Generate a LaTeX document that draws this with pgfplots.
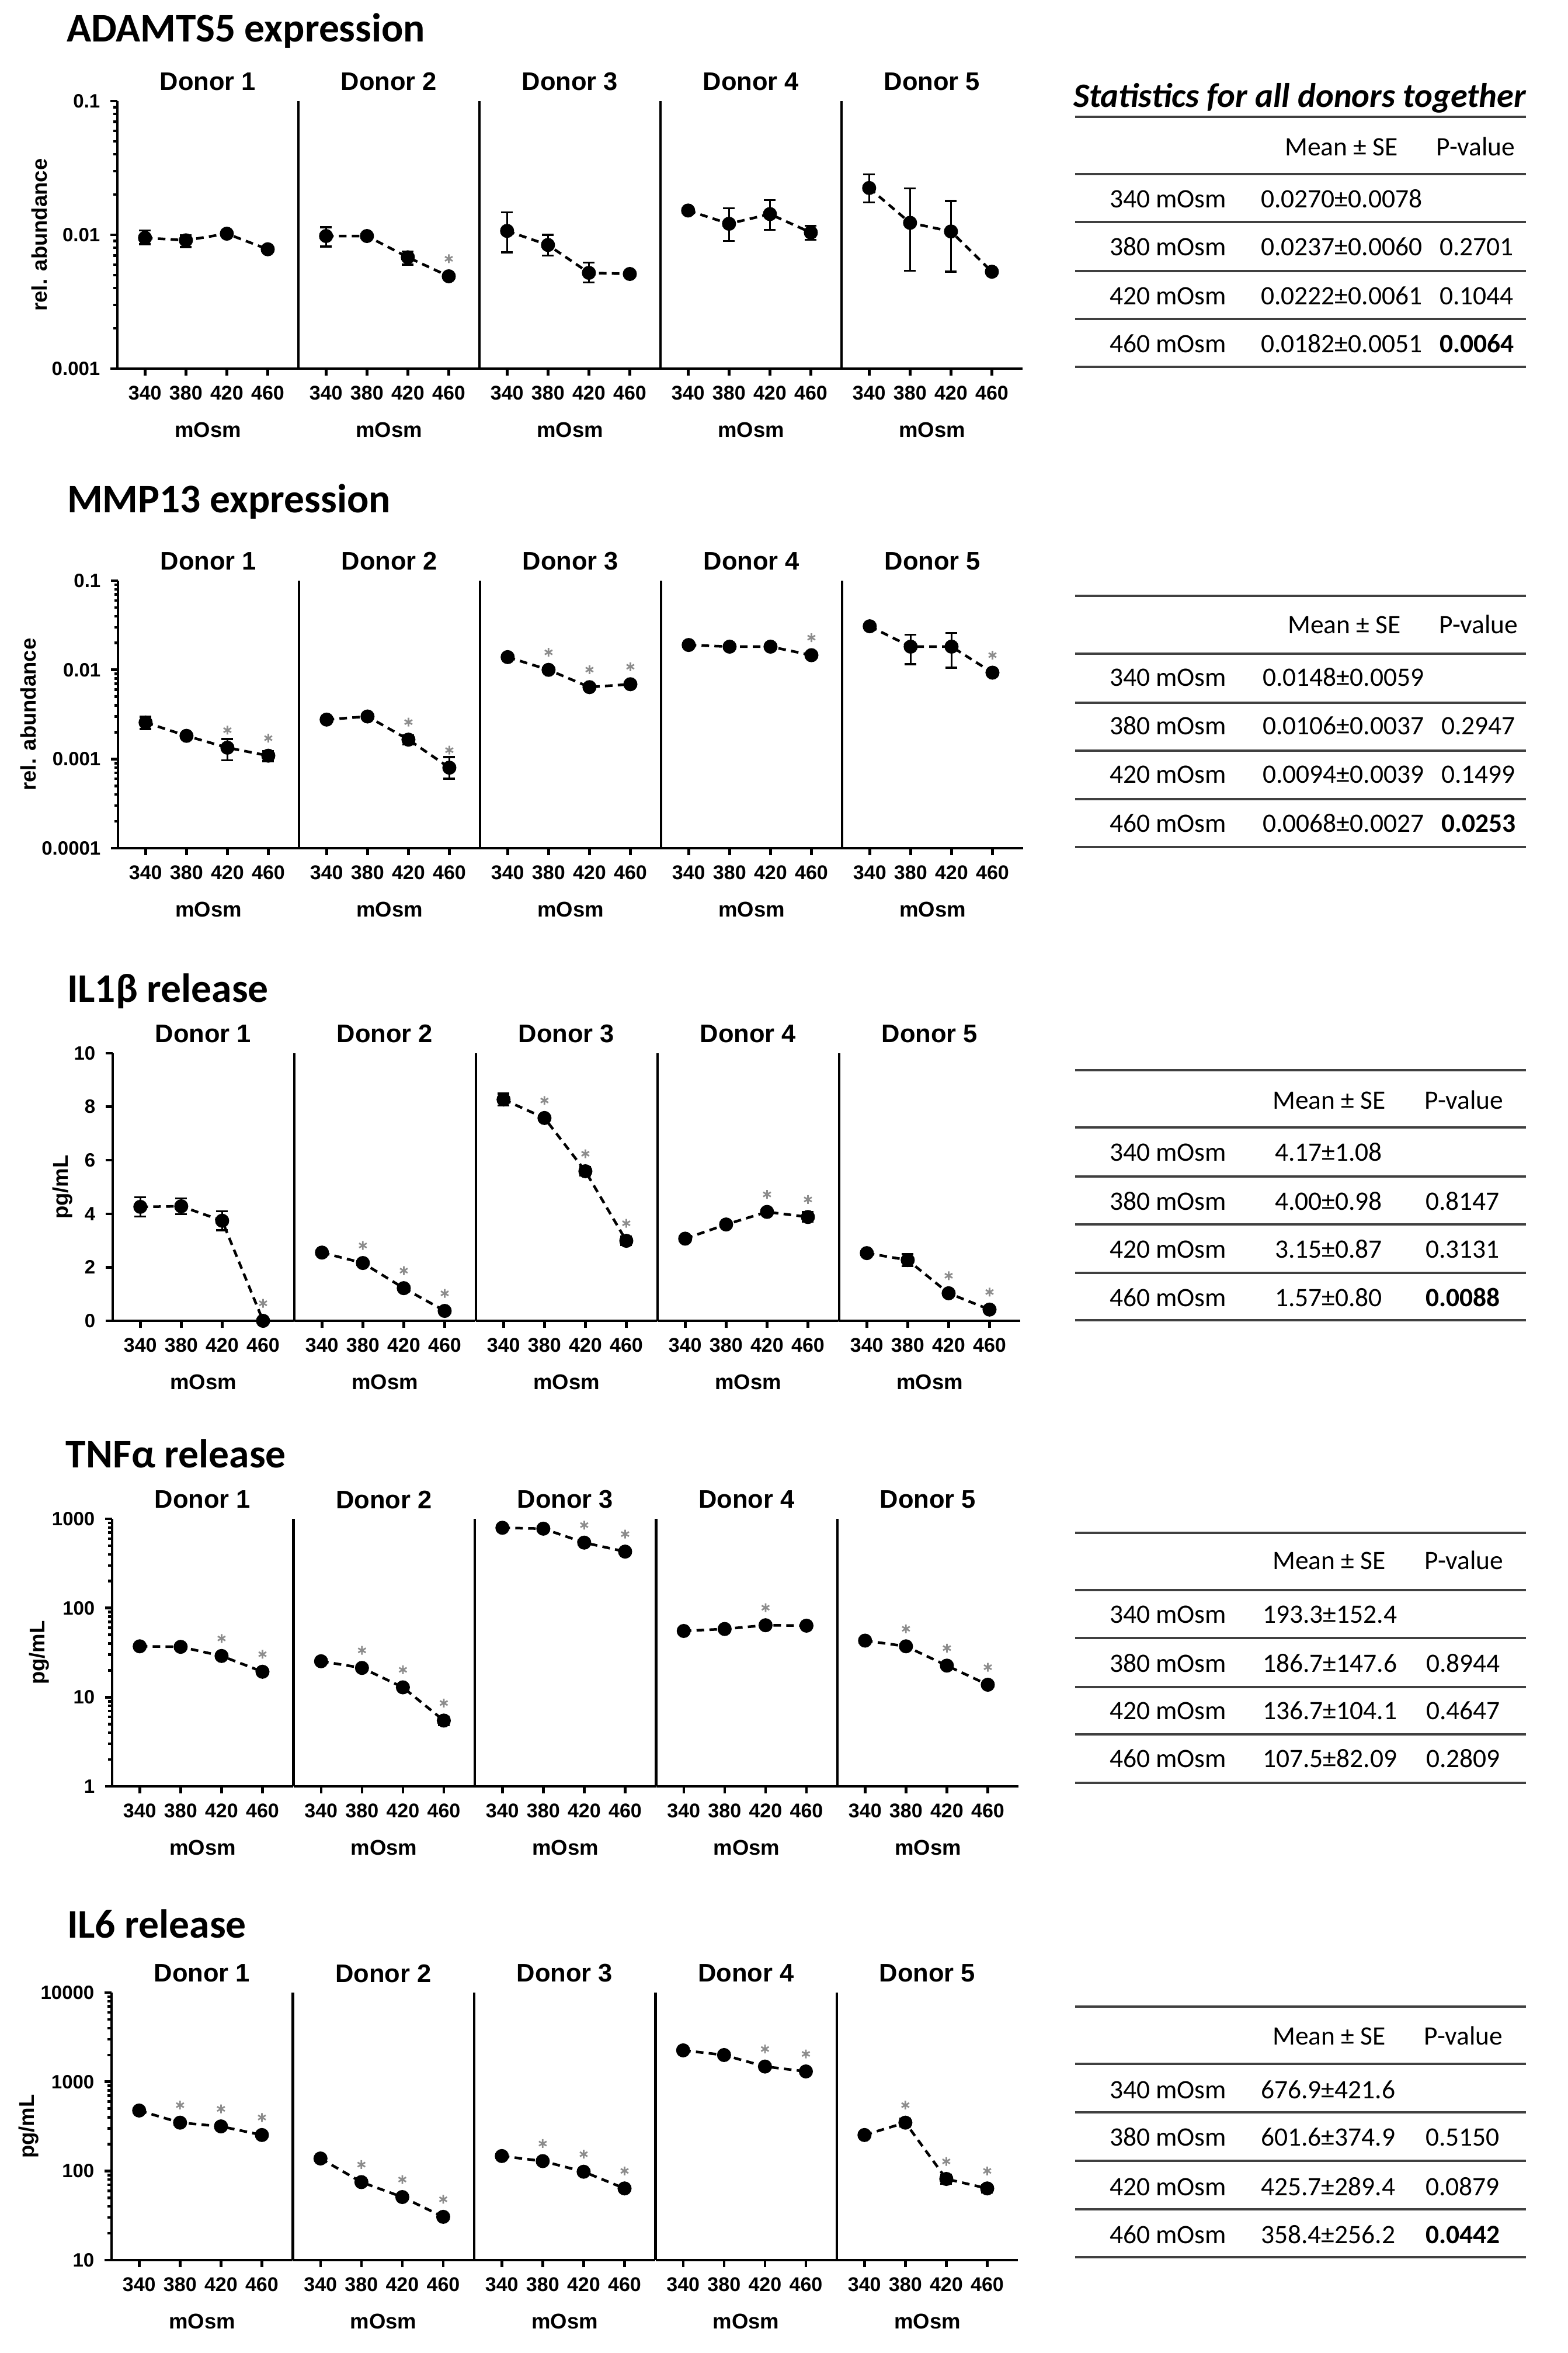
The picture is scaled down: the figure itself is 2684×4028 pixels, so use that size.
\documentclass[border=0pt]{standalone}
\usepackage{fontspec}
\setmainfont{Carlito}
\newfontfamily\arial{Liberation Sans}
\usepackage{pgfplots}
\pgfplotsset{compat=1.18}

\newcommand\donorfont{\arial\bfseries\fontsize{8.7}{10}\selectfont}
\newcommand\tickfont{\arial\bfseries\fontsize{6.8}{8}\selectfont}
\newcommand\ytickfont{\arial\bfseries\fontsize{6.6}{8}\selectfont}
\newcommand\labfont{\arial\bfseries\fontsize{7.3}{9}\selectfont}
\newcommand\headfont{\bfseries\fontsize{13.9}{16}\selectfont}
\newcommand\tabfont{\fontsize{9.1}{11}\selectfont}

\pgfplotsset{
  donorpanel/.style={
    scale only axis, width=62pt, height=91.6pt, anchor=south west, clip=false,
    axis x line*=bottom, axis y line*=left,
    axis line style={-, line width=0.9pt},
    xmin=313, xmax=490,
    xtick={340,380,420,460}, xticklabels={340,380,420,460},
    tick align=outside, major tick length=2.4pt, minor tick length=1.3pt,
    tick style={black, line width=0.9pt},
    xticklabel style={font=\tickfont},
    yticklabel style={font=\ytickfont},
    xlabel={mOsm},
    xlabel style={font=\labfont, at={(axis description cs:0.5,0)}, anchor=center, yshift=-21pt},
    title style={font=\donorfont, at={(axis description cs:0.5,1)}, anchor=center, yshift=0.6pt},
    ylabel style={font=\labfont, anchor=center},
  },
  donorinner/.style={ytick=\empty},
  datline/.style={black, line width=0.9pt, dash pattern=on 2.6pt off 1.8pt,
    mark=*, mark size=1.95pt, mark options={solid},
    error bars/y dir=both, error bars/y explicit,
    error bars/error bar style={solid, line width=0.7pt},
    error bars/error mark options={rotate=90, mark size=2pt, line width=0.7pt, solid}},
  starmark/.style={only marks, mark=asterisk, mark size=1.5pt, gray!90,
    mark options={yshift=6pt, line width=0.55pt, solid}},
}

\tikzset{
  tt/.style={anchor=base west, font=\tabfont, inner sep=0pt, yshift=-2.8pt},
  th/.style={anchor=base, font=\tabfont, inner sep=0pt, yshift=-2.8pt},
  tl/.style={black!75, line width=0.7pt},
}
\newcommand\srow[6]{%
  \node[tt] at (1899,#1) {#2};
  \node[tt] at (#3,#1) {#4};
  \node[tt] at (#5,#1) {#6};
}

\begin{document}
\begin{tikzpicture}
\begin{scope}[x=0.2pt,y=-0.2pt]
\path[use as bounding box] (0,0) rectangle (2684,4028);
% section titles
\node[anchor=base west, font=\headfont, inner sep=0pt] at (113,71) {ADAMTS5 expression};
\node[anchor=base west, font=\headfont, inner sep=0pt] at (114,877) {MMP13 expression};
\node[anchor=base west, font=\headfont, inner sep=0pt] at (114,1715) {IL1β release};
\node[anchor=base west, font=\headfont, inner sep=0pt] at (112,2512) {TNFα release};
\node[anchor=base west, font=\headfont, inner sep=0pt] at (114,3317) {IL6 release};

% table 1: ADAMTS5
\node[anchor=base west, font=\bfseries\itshape\fontsize{11.7}{14}\selectfont, inner sep=0pt] at (1837,183) {Statistics for all donors together};
\foreach \yy in {200,298,380,464,546,628} \draw[tl] (1841,\yy) -- (2613,\yy);
\node[th] at (2297,252) {Mean ± SE};
\node[th] at (2527,252) {P-value};
\srow{341}{340 mOsm}{2158}{0.0270±0.0078}{2464}{}
\srow{423}{380 mOsm}{2158}{0.0237±0.0060}{2464}{0.2701}
\srow{507}{420 mOsm}{2158}{0.0222±0.0061}{2464}{0.1044}
\srow{589}{460 mOsm}{2158}{0.0182±0.0051}{2464}{\bfseries 0.0064}

% table 2: MMP13
\foreach \yy in {1020,1119,1203,1285,1368,1450} \draw[tl] (1841,\yy) -- (2613,\yy);
\node[th] at (2302,1070) {Mean ± SE};
\node[th] at (2532,1070) {P-value};
\srow{1160}{340 mOsm}{2161}{0.0148±0.0059}{2467}{}
\srow{1243}{380 mOsm}{2161}{0.0106±0.0037}{2467}{0.2947}
\srow{1326}{420 mOsm}{2161}{0.0094±0.0039}{2467}{0.1499}
\srow{1410}{460 mOsm}{2161}{0.0068±0.0027}{2467}{\bfseries 0.0253}

% table 3: IL1b
\foreach \yy in {1832,1930,2014,2096,2179,2260} \draw[tl] (1841,\yy) -- (2613,\yy);
\node[th] at (2276,1884) {Mean ± SE};
\node[th] at (2507,1884) {P-value};
\srow{1973}{340 mOsm}{2182}{4.17±1.08}{2440}{}
\srow{2057}{380 mOsm}{2182}{4.00±0.98}{2440}{0.8147}
\srow{2139}{420 mOsm}{2182}{3.15±0.87}{2440}{0.3131}
\srow{2222}{460 mOsm}{2182}{1.57±0.80}{2440}{\bfseries 0.0088}

% table 4: TNFa
\foreach \yy in {2624,2722,2804,2888,2969,3052} \draw[tl] (1841,\yy) -- (2613,\yy);
\node[th] at (2276,2672) {Mean ± SE};
\node[th] at (2507,2672) {P-value};
\srow{2764}{340 mOsm}{2161}{193.3±152.4}{2441}{}
\srow{2848}{380 mOsm}{2161}{186.7±147.6}{2441}{0.8944}
\srow{2929}{420 mOsm}{2161}{136.7±104.1}{2441}{0.4647}
\srow{3011}{460 mOsm}{2161}{107.5±82.09}{2441}{0.2809}

% table 5: IL6
\foreach \yy in {3435,3533,3616,3699,3782,3864} \draw[tl] (1841,\yy) -- (2613,\yy);
\node[th] at (2276,3486) {Mean ± SE};
\node[th] at (2506,3486) {P-value};
\srow{3578}{340 mOsm}{2158}{676.9±421.6}{2440}{}
\srow{3659}{380 mOsm}{2158}{601.6±374.9}{2440}{0.5150}
\srow{3744}{420 mOsm}{2158}{425.7±289.4}{2440}{0.0879}
\srow{3826}{460 mOsm}{2158}{358.4±256.2}{2440}{\bfseries 0.0442}
\end{scope}

% ---------------- ADAMTS5 ----------------
\begin{axis}[donorpanel, ymode=log, ymin=0.001, ymax=0.1, at={(201*0.2pt,-631*0.2pt)}, title={Donor 1},
  ytick={0.001,0.01,0.1}, yticklabels={0.001,0.01,0.1},
  minor ytick={0.002,0.003,0.004,0.005,0.006,0.007,0.008,0.009,0.02,0.03,0.04,0.05,0.06,0.07,0.08,0.09},
  ylabel={rel. abundance}, ylabel style={at={(axis description cs:-0.432,0.5)}}]
\addplot[datline] coordinates {(340,0.0095) += (0,0.0013) -= (0,0.0010) (380,0.0091) += (0,0.0008) -= (0,0.0010) (420,0.0102) (460,0.0078)};
\end{axis}
\begin{axis}[donorpanel, ymode=log, ymin=0.001, ymax=0.1, donorinner, at={(511*0.2pt,-631*0.2pt)}, title={Donor 2}]
\addplot[datline] coordinates {(340,0.0098) += (0,0.0016) -= (0,0.0016) (380,0.0098) (420,0.0068) += (0,0.0007) -= (0,0.0008) (460,0.0049)};
\addplot[starmark] coordinates {(460,0.0049)};
\end{axis}
\begin{axis}[donorpanel, ymode=log, ymin=0.001, ymax=0.1, donorinner, at={(821*0.2pt,-631*0.2pt)}, title={Donor 3}]
\addplot[datline] coordinates {(340,0.0107) += (0,0.0040) -= (0,0.0033) (380,0.0084) += (0,0.0016) -= (0,0.0014) (420,0.0052) += (0,0.0010) -= (0,0.0008) (460,0.0051)};
\end{axis}
\begin{axis}[donorpanel, ymode=log, ymin=0.001, ymax=0.1, donorinner, at={(1131*0.2pt,-631*0.2pt)}, title={Donor 4}]
\addplot[datline] coordinates {(340,0.0152) (380,0.0121) += (0,0.0037) -= (0,0.0031) (420,0.0143) += (0,0.0039) -= (0,0.0034) (460,0.0104) += (0,0.0013) -= (0,0.0012)};
\end{axis}
\begin{axis}[donorpanel, ymode=log, ymin=0.001, ymax=0.1, donorinner, at={(1441*0.2pt,-631*0.2pt)}, title={Donor 5}]
\addplot[datline] coordinates {(340,0.0224) += (0,0.0059) -= (0,0.0049) (380,0.0123) += (0,0.0099) -= (0,0.0069) (420,0.0106) += (0,0.0073) -= (0,0.0053) (460,0.0053)};
\end{axis}

% ---------------- MMP13 ----------------
\begin{axis}[donorpanel, ymode=log, ymin=0.0001, ymax=0.1, at={(202*0.2pt,-1452*0.2pt)}, title={Donor 1},
  ytick={0.0001,0.001,0.01,0.1}, yticklabels={0.0001,0.001,0.01,0.1},
  minor ytick={0.0002,0.0003,0.0004,0.0005,0.0006,0.0007,0.0008,0.0009,0.002,0.003,0.004,0.005,0.006,0.007,0.008,0.009,0.02,0.03,0.04,0.05,0.06,0.07,0.08,0.09},
  ylabel={rel. abundance}, ylabel style={at={(axis description cs:-0.494,0.5)}}]
\addplot[datline] coordinates {(340,0.00257) += (0,0.0004) -= (0,0.0004) (380,0.00182) (420,0.00134) += (0,0.00034) -= (0,0.00037) (460,0.00109) += (0,0.00014) -= (0,0.00014)};
\addplot[starmark] coordinates {(420,0.00134) (460,0.00109)};
\end{axis}
\begin{axis}[donorpanel, ymode=log, ymin=0.0001, ymax=0.1, donorinner, at={(512*0.2pt,-1452*0.2pt)}, title={Donor 2}]
\addplot[datline] coordinates {(340,0.00277) (380,0.0030) (420,0.00165) += (0,0.0002) -= (0,0.0002) (460,0.0008) += (0,0.00025) -= (0,0.0002)};
\addplot[starmark] coordinates {(420,0.00165) (460,0.0008)};
\end{axis}
\begin{axis}[donorpanel, ymode=log, ymin=0.0001, ymax=0.1, donorinner, at={(822*0.2pt,-1452*0.2pt)}, title={Donor 3}]
\addplot[datline] coordinates {(340,0.0139) (380,0.0100) (420,0.0064) += (0,0.0004) -= (0,0.0004) (460,0.0069)};
\addplot[starmark] coordinates {(380,0.0100) (420,0.0064) (460,0.0069)};
\end{axis}
\begin{axis}[donorpanel, ymode=log, ymin=0.0001, ymax=0.1, donorinner, at={(1132*0.2pt,-1452*0.2pt)}, title={Donor 4}]
\addplot[datline] coordinates {(340,0.0190) (380,0.0182) (420,0.0182) (460,0.0146)};
\addplot[starmark] coordinates {(460,0.0146)};
\end{axis}
\begin{axis}[donorpanel, ymode=log, ymin=0.0001, ymax=0.1, donorinner, at={(1442*0.2pt,-1452*0.2pt)}, title={Donor 5}]
\addplot[datline] coordinates {(340,0.0308) (380,0.0182) += (0,0.0065) -= (0,0.0066) (420,0.0182) += (0,0.0077) -= (0,0.0076) (460,0.0093)};
\addplot[starmark] coordinates {(460,0.0093)};
\end{axis}

% ---------------- IL1b ----------------
\begin{axis}[donorpanel, ymin=0, ymax=10, at={(193*0.2pt,-2261*0.2pt)}, title={Donor 1},
  ytick={0,2,4,6,8,10}, yticklabels={0,2,4,6,8,10},
  ylabel={pg/mL}, ylabel style={at={(axis description cs:-0.277,0.5)}}]
\addplot[datline] coordinates {(340,4.26) +- (0,0.36) (380,4.28) +- (0,0.30) (420,3.74) +- (0,0.36) (460,0)};
\addplot[starmark] coordinates {(460,0)};
\end{axis}
\begin{axis}[donorpanel, ymin=0, ymax=10, donorinner, at={(504*0.2pt,-2261*0.2pt)}, title={Donor 2}]
\addplot[datline] coordinates {(340,2.55) (380,2.16) (420,1.22) (460,0.37)};
\addplot[starmark] coordinates {(380,2.16) (420,1.22) (460,0.37)};
\end{axis}
\begin{axis}[donorpanel, ymin=0, ymax=10, donorinner, at={(815*0.2pt,-2261*0.2pt)}, title={Donor 3}]
\addplot[datline] coordinates {(340,8.27) +- (0,0.22) (380,7.58) (420,5.59) +- (0,0.15) (460,2.99) +- (0,0.15)};
\addplot[starmark] coordinates {(380,7.58) (420,5.59) (460,2.99)};
\end{axis}
\begin{axis}[donorpanel, ymin=0, ymax=10, donorinner, at={(1126*0.2pt,-2261*0.2pt)}, title={Donor 4}]
\addplot[datline] coordinates {(340,3.07) (380,3.60) (420,4.07) +- (0,0.10) (460,3.88) +- (0,0.18)};
\addplot[starmark] coordinates {(420,4.07) (460,3.88)};
\end{axis}
\begin{axis}[donorpanel, ymin=0, ymax=10, donorinner, at={(1437*0.2pt,-2261*0.2pt)}, title={Donor 5}]
\addplot[datline] coordinates {(340,2.53) (380,2.27) +- (0,0.23) (420,1.03) (460,0.42)};
\addplot[starmark] coordinates {(420,1.03) (460,0.42)};
\end{axis}

% ---------------- TNFa ----------------
\begin{axis}[donorpanel, ymode=log, ymin=1, ymax=1000, at={(192*0.2pt,-3058*0.2pt)}, title={Donor 1},
  ytick={1,10,100,1000}, yticklabels={1,10,100,1000},
  minor ytick={2,3,4,5,6,7,8,9,20,30,40,50,60,70,80,90,200,300,400,500,600,700,800,900},
  ylabel={pg/mL}, ylabel style={at={(axis description cs:-0.403,0.5)}}]
\addplot[datline] coordinates {(340,37.2) (380,36.7) (420,29.0) (460,19.3)};
\addplot[starmark] coordinates {(420,29.0) (460,19.3)};
\end{axis}
\begin{axis}[donorpanel, ymode=log, ymin=1, ymax=1000, donorinner, at={(502.5*0.2pt,-3058*0.2pt)}, title={Donor 2}]
\addplot[datline] coordinates {(340,25.3) (380,21.3) (420,12.9) (460,5.47) +- (0,0.6)};
\addplot[starmark] coordinates {(380,21.3) (420,12.9) (460,5.47)};
\end{axis}
\begin{axis}[donorpanel, ymode=log, ymin=1, ymax=1000, donorinner, at={(813*0.2pt,-3058*0.2pt)}, title={Donor 3}]
\addplot[datline] coordinates {(340,794) (380,776) (420,541) (460,429)};
\addplot[starmark] coordinates {(420,541) (460,429)};
\end{axis}
\begin{axis}[donorpanel, ymode=log, ymin=1, ymax=1000, donorinner, at={(1123.5*0.2pt,-3058*0.2pt)}, title={Donor 4}]
\addplot[datline] coordinates {(340,55.3) (380,58.2) (420,64.1) (460,63.4)};
\addplot[starmark] coordinates {(420,64.1)};
\end{axis}
\begin{axis}[donorpanel, ymode=log, ymin=1, ymax=1000, donorinner, at={(1434*0.2pt,-3058*0.2pt)}, title={Donor 5}]
\addplot[datline] coordinates {(340,43.1) (380,37.2) (420,22.6) (460,13.8)};
\addplot[starmark] coordinates {(380,37.2) (420,22.6) (460,13.8)};
\end{axis}

% ---------------- IL6 ----------------
\begin{axis}[donorpanel, ymode=log, ymin=10, ymax=10000, at={(191*0.2pt,-3869*0.2pt)}, title={Donor 1},
  ytick={10,100,1000,10000}, yticklabels={10,100,1000,10000},
  minor ytick={20,30,40,50,60,70,80,90,200,300,400,500,600,700,800,900,2000,3000,4000,5000,6000,7000,8000,9000},
  ylabel={pg/mL}, ylabel style={at={(axis description cs:-0.458,0.5)}}]
\addplot[datline] coordinates {(340,476) (380,348) +- (0,25) (420,316) +- (0,25) (460,253)};
\addplot[starmark] coordinates {(380,348) (420,316) (460,253)};
\end{axis}
\begin{axis}[donorpanel, ymode=log, ymin=10, ymax=10000, donorinner, at={(501.5*0.2pt,-3869*0.2pt)}, title={Donor 2}]
\addplot[datline] coordinates {(340,138) (380,75) (420,51) (460,30.6)};
\addplot[starmark] coordinates {(380,75) (420,51) (460,30.6)};
\end{axis}
\begin{axis}[donorpanel, ymode=log, ymin=10, ymax=10000, donorinner, at={(812*0.2pt,-3869*0.2pt)}, title={Donor 3}]
\addplot[datline] coordinates {(340,147) (380,129) (420,98) (460,63.7)};
\addplot[starmark] coordinates {(380,129) (420,98) (460,63.7)};
\end{axis}
\begin{axis}[donorpanel, ymode=log, ymin=10, ymax=10000, donorinner, at={(1122.5*0.2pt,-3869*0.2pt)}, title={Donor 4}]
\addplot[datline] coordinates {(340,2250) (380,1995) (420,1482) (460,1306)};
\addplot[starmark] coordinates {(420,1482) (460,1306)};
\end{axis}
\begin{axis}[donorpanel, ymode=log, ymin=10, ymax=10000, donorinner, at={(1433*0.2pt,-3869*0.2pt)}, title={Donor 5}]
\addplot[datline] coordinates {(340,253) (380,348) += (0,40) -= (0,35) (420,81.4) += (0,10) -= (0,10) (460,63.7) += (0,6) -= (0,6)};
\addplot[starmark] coordinates {(380,348) (420,81.4) (460,63.7)};
\end{axis}
\end{tikzpicture}
\end{document}
